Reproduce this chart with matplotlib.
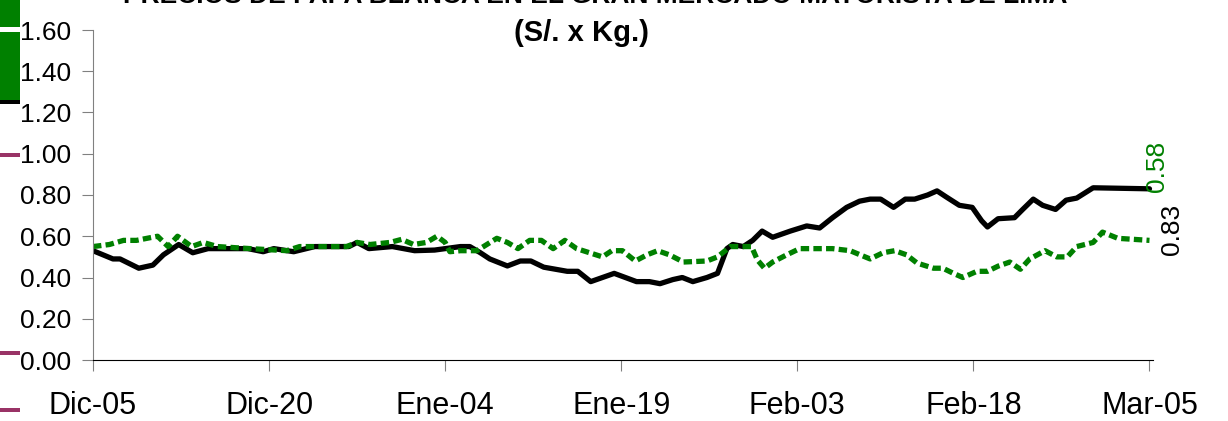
import matplotlib
matplotlib.use("Agg")
import matplotlib.pyplot as plt
from matplotlib.patches import Rectangle

# ---------------------------------------------------------------------------
# Data (x = days since Dic-05)
# ---------------------------------------------------------------------------
TITLE_1 = "PRECIOS DE PAPA BLANCA EN EL GRAN MERCADO MAYORISTA DE LIMA"
TITLE_2 = "(S/. x Kg.)"

tick_days   = [0, 15, 30, 45, 60, 75, 90]
tick_labels = ["Dic-05", "Dic-20", "Ene-04", "Ene-19", "Feb-03", "Feb-18", "Mar-05"]

black_days = [0, 1.7, 2.3, 3.9, 5.1, 6.0, 7.3, 8.5, 9.8, 13.2, 14.5, 15.4, 17.1,
              18.9, 21.8, 22.5, 23.5, 25.5, 27.4, 29.1, 31.3, 32.1, 33.0, 33.8,
              35.3, 36.4, 37.3, 38.4, 40.4, 41.3, 42.4, 44.4, 46.3, 47.4, 48.3,
              49.4, 50.2, 51.1, 52.3, 53.2, 54.0, 54.5, 55.4, 56.2, 57.0, 57.9,
              59.4, 60.8, 61.9, 63.0, 64.2, 65.3, 66.2, 67.1, 68.2, 69.2, 70.0,
              71.1, 71.9, 72.7, 73.8, 74.9, 75.7, 76.2, 77.1, 78.5, 79.2, 80.1,
              80.9, 82.0, 82.9, 83.8, 85.2, 90.0]
black_vals = [0.53, 0.49, 0.49, 0.445, 0.46, 0.51, 0.56, 0.52, 0.54, 0.54, 0.525,
              0.54, 0.525, 0.55, 0.55, 0.57, 0.54, 0.55, 0.53, 0.533, 0.55, 0.55,
              0.52, 0.49, 0.456, 0.48, 0.48, 0.45, 0.43, 0.43, 0.38, 0.42, 0.38,
              0.38, 0.37, 0.39, 0.40, 0.38, 0.40, 0.42, 0.54, 0.56, 0.55, 0.58,
              0.625, 0.595, 0.625, 0.65, 0.64, 0.69, 0.74, 0.77, 0.78, 0.78, 0.74,
              0.78, 0.78, 0.80, 0.82, 0.79, 0.75, 0.74, 0.675, 0.645, 0.685, 0.69,
              0.73, 0.78, 0.75, 0.73, 0.775, 0.785, 0.835, 0.83]

green_days = [0, 1.4, 2.6, 3.7, 4.6, 5.5, 6.4, 7.2, 8.4, 9.4, 10.6, 13.4, 16.5,
              17.6, 21.6, 22.5, 23.6, 25.3, 26.3, 27.3, 28.4, 29.3, 30.0, 30.4,
              31.3, 31.9, 32.7, 34.4, 35.3, 36.2, 37.2, 38.2, 39.2, 40.2, 41.2,
              42.3, 43.4, 44.2, 45.1, 46.2, 47.2, 48.1, 49.1, 50.3, 52.3, 53.2,
              54.3, 55.3, 56.1, 56.6, 57.2, 57.9, 59.1, 60.2, 61.9, 63.0, 64.5,
              66.2, 67.3, 68.3, 69.3, 70.2, 71.6, 72.4, 73.3, 74.1, 75.3, 76.2,
              77.1, 78.1, 79.0, 79.8, 81.1, 82.1, 83.0, 83.8, 85.2, 86.0, 87.3, 90.0]
green_vals = [0.55, 0.56, 0.58, 0.58, 0.59, 0.60, 0.55, 0.60, 0.55, 0.57, 0.55,
              0.54, 0.53, 0.55, 0.55, 0.57, 0.56, 0.57, 0.585, 0.56, 0.57, 0.60,
              0.57, 0.525, 0.53, 0.53, 0.53, 0.59, 0.57, 0.54, 0.58, 0.58, 0.54,
              0.58, 0.54, 0.52, 0.50, 0.53, 0.53, 0.48, 0.51, 0.53, 0.51, 0.475,
              0.48, 0.50, 0.55, 0.55, 0.55, 0.485, 0.445, 0.475, 0.51, 0.54, 0.54,
              0.54, 0.53, 0.49, 0.52, 0.53, 0.51, 0.47, 0.445, 0.445, 0.42, 0.40,
              0.43, 0.43, 0.455, 0.475, 0.44, 0.49, 0.53, 0.50, 0.50, 0.55, 0.57,
              0.62, 0.59, 0.58]

last_green = "0.58"
last_black = "0.83"

GREEN  = "#008000"
PURPLE = "#993366"

W, H = 1228, 421
plt.rcParams["font.family"] = ["Liberation Sans", "DejaVu Sans"]

fig = plt.figure(figsize=(W / 100, H / 100), dpi=100)
ax = fig.add_axes([93 / W, 1 - 360 / H, (1153 - 93) / W, 330 / H])

ax.plot(black_days, black_vals, color="black", lw=3.8,
        solid_joinstyle="round", solid_capstyle="round")
ax.plot(green_days, green_vals, color=GREEN, lw=3.8,
        linestyle=(0, (1.6, 0.8)), dash_capstyle="butt")

ax.set_xlim(0, 90.3)
ax.set_ylim(0, 1.6)
ax.set_yticks([i * 0.2 for i in range(9)])
ax.set_yticklabels([f"{i * 0.2:.2f}" for i in range(9)])
ax.set_xticks(tick_days)
ax.set_xticklabels(tick_labels)

for s in ("top", "right"):
    ax.spines[s].set_visible(False)
ax.spines["left"].set_color("#808080")
ax.spines["bottom"].set_color("black")
ax.tick_params(axis="y", length=8, color="#808080", labelsize=19, pad=8)
ax.tick_params(axis="x", length=8, color="#808080", labelsize=22, pad=14)

ax.text(90.6, 0.94, last_green, color=GREEN, rotation=90, fontsize=19,
        ha="center", va="center", clip_on=False)
ax.text(91.9, 0.635, last_black, color="black", rotation=90, fontsize=19,
        ha="center", va="center", clip_on=False)

# first title line is clipped by the top edge, as in the source image
fig.text(595 / W, 1 - 8 / H, TITLE_1, ha="center", va="bottom",
         fontsize=19, fontweight="bold")
fig.text(582 / W, 1 - 33 / H, TITLE_2, ha="center", va="center",
         fontsize=21, fontweight="bold")

# remnants of the cut-off legend on the left edge
def px_rect(x0, y0, x1, y1, color):
    fig.add_artist(Rectangle((x0 / W, 1 - y1 / H), (x1 - x0) / W, (y1 - y0) / H,
                             transform=fig.transFigure, color=color, lw=0))

px_rect(0, 0, 20, 27, GREEN)
px_rect(0, 32, 20, 100, GREEN)
px_rect(0, 100, 20, 104, "black")
for y in (155, 353, 410):
    px_rect(0, y - 2, 20, y + 2, PURPLE)

fig.savefig("out.png", dpi=100)
